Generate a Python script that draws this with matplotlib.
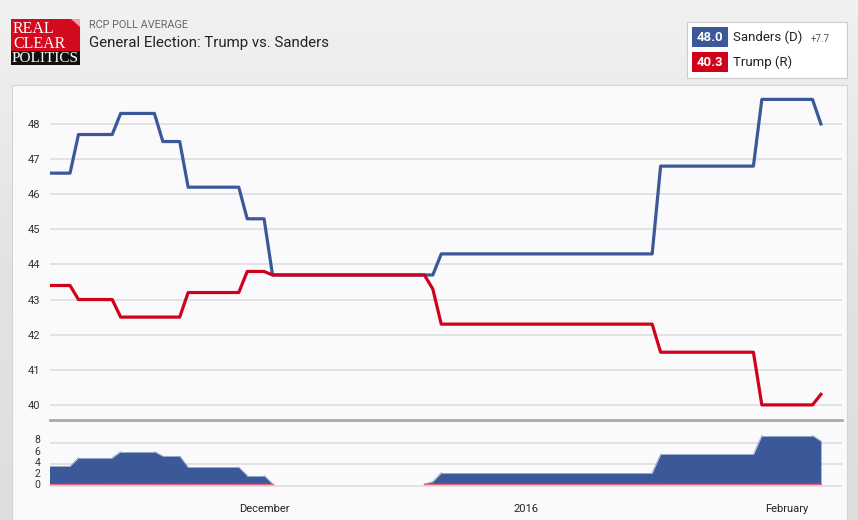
## RCP poll average chart: Trump vs. Sanders
import numpy as np
import pandas as pd
import matplotlib
matplotlib.use("Agg")
import matplotlib.pyplot as plt
from matplotlib.patches import Rectangle, Polygon
from matplotlib.colors import LinearSegmentedColormap

plt.rcParams['font.family'] = ['Roboto', 'DejaVu Sans']

## Dates where the average changes (both ends of every flat stretch)
pollDates = ['2015-11-05', '2015-11-08', '2015-11-09', '2015-11-13', '2015-11-14',
             '2015-11-18', '2015-11-19', '2015-11-21', '2015-11-22', '2015-11-28',
             '2015-11-29', '2015-12-01', '2015-12-02', '2015-12-20', '2015-12-21',
             '2015-12-22', '2016-01-16', '2016-01-17', '2016-01-28', '2016-01-29',
             '2016-02-04', '2016-02-05']
sandersValues = [46.6, 46.6, 47.7, 47.7, 48.3, 48.3, 47.5, 47.5, 46.2, 46.2, 45.3,
                 45.3, 43.7, 43.7, 43.7, 44.3, 44.3, 46.8, 46.8, 48.7, 48.7, 48.0]
trumpValues = [43.4, 43.4, 43.0, 43.0, 42.5, 42.5, 42.5, 42.5, 43.2, 43.2, 43.8,
               43.8, 43.7, 43.7, 43.3, 42.3, 42.3, 41.5, 41.5, 40.0, 40.0, 40.3]

tickDates = ['2015-12-01', '2016-01-01', '2016-02-01']
tickLabels = ['December', '2016', 'February']
averageTicks = [40, 41, 42, 43, 44, 45, 46, 47, 48]
spreadTicks = [0, 2, 4, 6, 8]

## Legend values
sandersLatest = '48.0'
trumpLatest = '40.3'
sandersLead = '+7.7'

## Colours
blue = '#3b5998'
red = '#d0021b'
gridColor = '#dedede'

dates = pd.to_datetime(pollDates)
sanders = np.array(sandersValues)
trump = np.array(trumpValues)
spread = sanders - trump

W, H = 858, 520
fig = plt.figure(figsize=(W / 100, H / 100), dpi=100)

## Background drawn in pixel coordinates
bgAx = fig.add_axes([0, 0, 1, 1], zorder=-1)
bgAx.set_xlim(0, W)
bgAx.set_ylim(H, 0)
bgAx.axis('off')
gradient = np.linspace(0, 1, 256).reshape(-1, 1)
bgMap = LinearSegmentedColormap.from_list('bg', ['#f1f1f1', '#e3e3e3', '#dedede'])
bgAx.imshow(gradient, cmap=bgMap, extent=[0, W, H, 0], aspect='auto')
bgAx.add_patch(Rectangle((12, 85), 835, 440, facecolor='#fafafd', edgecolor='#d4d4d4', lw=0.8))

## Logo
bgAx.add_patch(Rectangle((11, 19), 69, 32, facecolor='#d10a1e', edgecolor='none'))
bgAx.add_patch(Polygon([(71, 19), (80, 19), (80, 27)], facecolor='#e9a0a8', edgecolor='none'))
bgAx.add_patch(Rectangle((11, 51), 69, 14, facecolor='#111111', edgecolor='none'))
logoFont = dict(family=['Liberation Serif', 'DejaVu Serif'], color='white', va='center', ha='left')
bgAx.text(13, 29, 'REAL', fontsize=11.5, **logoFont)
bgAx.text(13, 43.5, 'CLEAR', fontsize=11.5, **logoFont)
bgAx.text(12, 58.5, 'POLITICS', fontsize=11, **logoFont)

## Header text
bgAx.text(89, 25, 'RCP POLL AVERAGE', fontsize=7.8, color='#666666', va='center', ha='left')
bgAx.text(89, 43, 'General Election: Trump vs. Sanders', fontsize=10.8, color='#222222',
          va='center', ha='left')

## Legend box
bgAx.add_patch(Rectangle((687, 22), 160, 56, facecolor='white', edgecolor='#cccccc', lw=0.8))
bgAx.add_patch(Rectangle((692, 27), 36, 20, facecolor=blue, edgecolor='none'))
bgAx.add_patch(Rectangle((692, 52), 36, 20, facecolor=red, edgecolor='none'))
bgAx.text(710, 37.5, sandersLatest, fontsize=9.5, fontweight='bold', color='white', ha='center', va='center')
bgAx.text(710, 62.5, trumpLatest, fontsize=9.5, fontweight='bold', color='white', ha='center', va='center')
bgAx.text(733, 37.5, 'Sanders (D)', fontsize=9.5, color='#222222', ha='left', va='center')
bgAx.text(811, 38.5, sandersLead, fontsize=7, color='#555555', ha='left', va='center')
bgAx.text(733, 62.5, 'Trump (R)', fontsize=9.5, color='#222222', ha='left', va='center')

xStart = pd.Timestamp('2015-11-05 15:00')
xEnd = pd.Timestamp('2016-02-07 12:00')

## Poll average panel
ax = fig.add_axes([50 / W, (H - 420) / H, 792 / W, 335 / H])
ax.set_facecolor('none')
ax.plot(dates, sanders, color=blue, lw=2.3, solid_joinstyle='round', zorder=3)
ax.plot(dates, trump, color=red, lw=2.3, solid_joinstyle='round', zorder=4)
ax.set_xlim(xStart, xEnd)
ax.set_ylim(39.57, 49.11)
ax.set_yticks(averageTicks)
ax.grid(axis='y', color=gridColor, lw=1.2)
ax.tick_params(axis='y', length=0, pad=7, labelsize=8, labelcolor='#333333')
ax.set_xticks([])
for side in ax.spines.values():
    side.set_visible(False)

## Spread panel
ax2 = fig.add_axes([50 / W, (H - 490) / H, 792 / W, 70 / H])
ax2.set_facecolor('none')
lead = np.maximum(spread, 0)
ax2.fill_between(dates, 0, lead, color=blue, lw=0, zorder=2)
## Edge and baseline only where a lead is shown (the tied stretch is left empty)
for i in range(len(dates) - 1):
    if spread[i] > 0 or spread[i + 1] > 0:
        ax2.plot(dates[i:i + 2], lead[i:i + 2], color='#9aaacb', lw=0.7, zorder=2)
        ax2.plot(dates[i:i + 2], [0, 0], color='#e8607a', lw=1.0, zorder=3)
for level in [-0.45, 3.5, 7.4]:
    ax2.axhline(level, color=gridColor, lw=1.2, zorder=1)
ax2.set_xlim(xStart, xEnd)
ax2.set_ylim(-1.1, 11.5)
ax2.set_yticks(spreadTicks)
ax2.tick_params(axis='y', length=0, pad=7, labelsize=7.5, labelcolor='#333333')
ax2.set_xticks(pd.to_datetime(tickDates))
ax2.set_xticklabels(tickLabels)
ax2.tick_params(axis='x', length=0, pad=10, labelsize=8, labelcolor='#222222')
for name, side in ax2.spines.items():
    side.set_visible(name == 'top')
ax2.spines['top'].set_color('#aaaaaa')
ax2.spines['top'].set_linewidth(2)

fig.savefig('out.png', dpi=100)
